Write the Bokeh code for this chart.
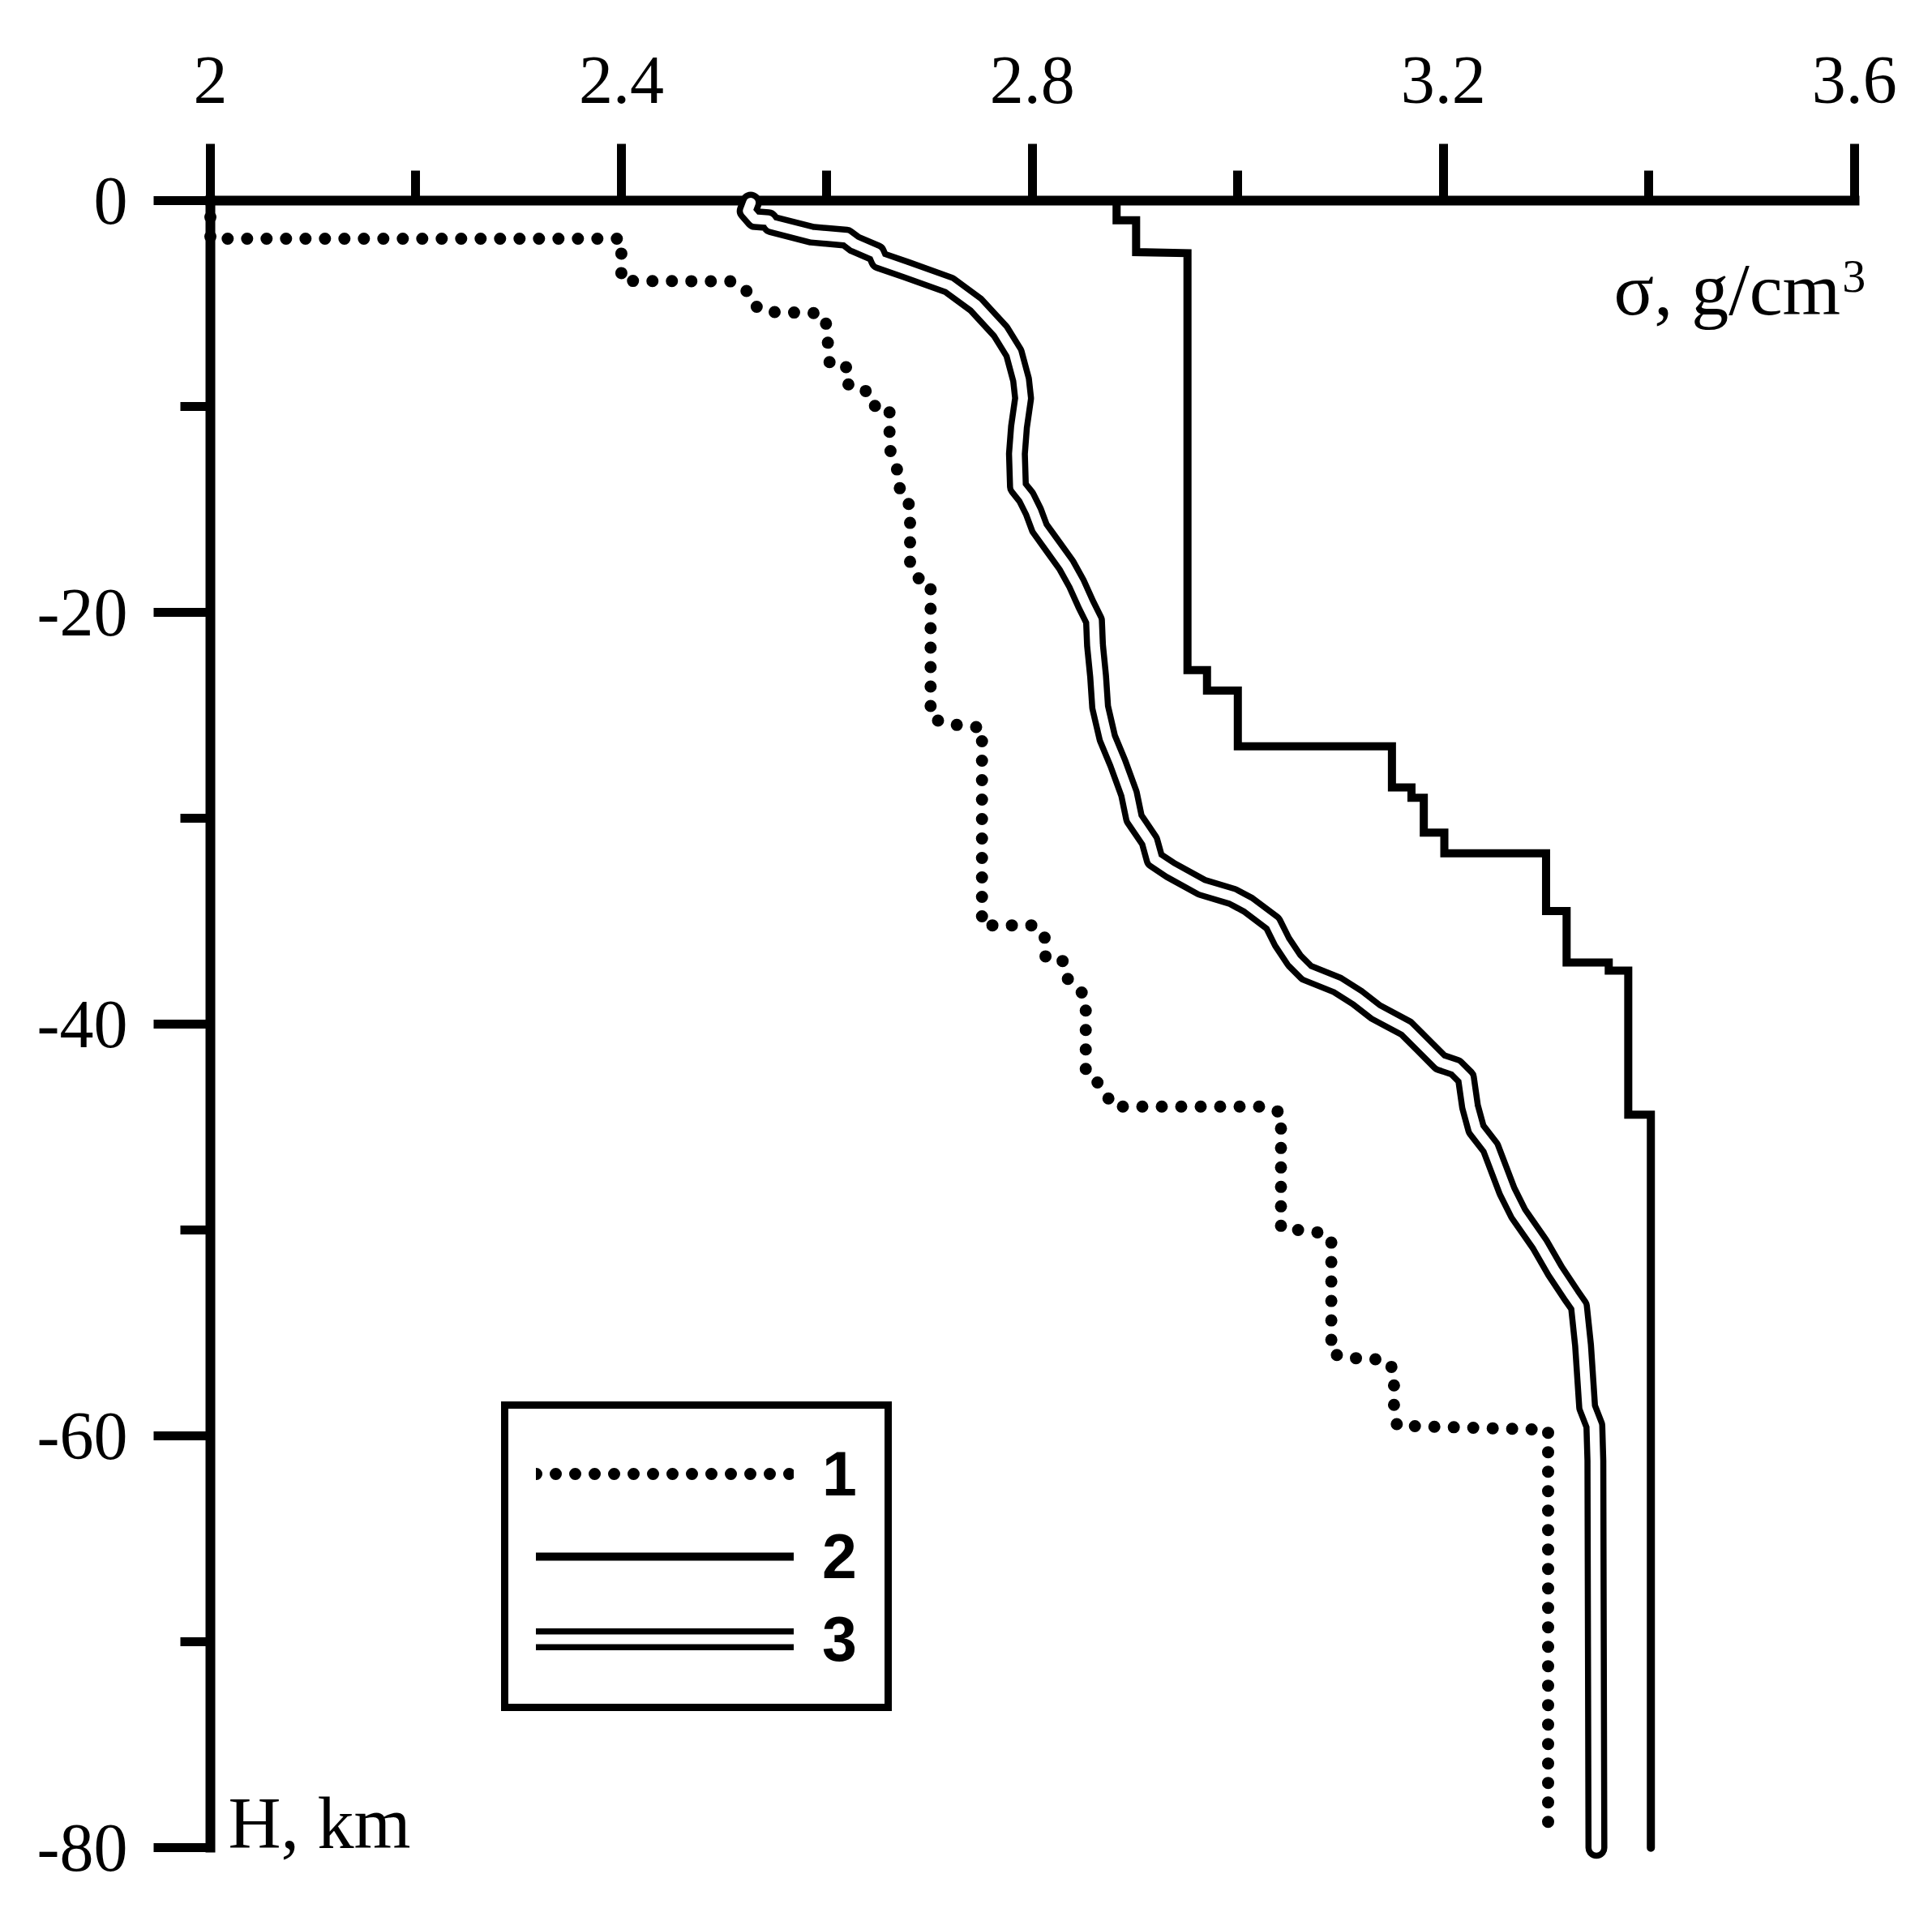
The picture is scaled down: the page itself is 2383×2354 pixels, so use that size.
from bokeh.plotting import figure
from bokeh.models import Range1d, FixedTicker, NumeralTickFormatter, Label, Legend, LegendItem
from bokeh.embed import file_html
from bokeh.resources import INLINE

# ---- data (density in g/cm3, depth in km) ----
# Series 1 (dotted)
density_1 = [2.000, 2.000, 2.400, 2.400, 2.507, 2.521, 2.527, 2.539, 2.595, 2.601,
             2.601, 2.603, 2.621, 2.621, 2.638, 2.643, 2.661, 2.661, 2.665, 2.671,
             2.671, 2.681, 2.681, 2.687, 2.701, 2.701, 2.715, 2.751, 2.751, 2.803,
             2.812, 2.812, 2.829, 2.832, 2.842, 2.852, 2.852, 2.863, 2.872, 2.878,
             3.027, 3.042, 3.042, 3.059, 3.077, 3.091, 3.091, 3.107, 3.144, 3.152,
             3.152, 3.155, 3.302, 3.302]
depth_1 = [-0.8, -1.85, -1.85, -3.9, -3.92, -4.3, -5.0, -5.4, -5.47, -6.2,
           -7.15, -8.0, -8.1, -9.0, -9.25, -9.95, -10.05, -12.0, -12.7, -13.35,
           -14.3, -14.8, -17.6, -18.3, -18.55, -25.1, -25.4, -25.6, -35.2, -35.2,
           -35.8, -36.7, -36.8, -37.7, -38.1, -38.7, -42.4, -42.8, -43.4, -44.0,
           -44.0, -44.3, -49.9, -50.0, -50.1, -50.4, -56.0, -56.2, -56.3, -56.8,
           -58.7, -59.5, -59.7, -79.3]

# Series 2 (solid)
density_2 = [2.882, 2.882, 2.901, 2.901, 2.951, 2.951, 2.970, 2.970, 3.000, 3.000,
             3.150, 3.150, 3.169, 3.169, 3.181, 3.181, 3.201, 3.201, 3.300, 3.300,
             3.320, 3.320, 3.361, 3.361, 3.380, 3.380, 3.402, 3.402]
depth_2 = [0.0, -0.95, -0.95, -2.5, -2.55, -22.8, -22.8, -23.8, -23.8, -26.5,
           -26.5, -28.5, -28.5, -29.0, -29.0, -30.7, -30.7, -31.7, -31.7, -34.5,
           -34.5, -37.0, -37.0, -37.4, -37.4, -44.4, -44.4, -80.0]

# Series 3 (double line)
density_3 = [2.526, 2.523, 2.530, 2.543, 2.546, 2.585, 2.619, 2.627, 2.648, 2.651,
             2.677, 2.719, 2.745, 2.769, 2.782, 2.789, 2.791, 2.787, 2.785, 2.786,
             2.794, 2.801, 2.807, 2.820, 2.833, 2.843, 2.852, 2.860, 2.861, 2.864,
             2.866, 2.873, 2.883, 2.894, 2.899, 2.914, 2.919, 2.934, 2.965, 2.995,
             3.010, 3.034, 3.043, 3.055, 3.067, 3.097, 3.116, 3.134, 3.164, 3.180,
             3.197, 3.212, 3.222, 3.226, 3.232, 3.246, 3.262, 3.273, 3.294, 3.309,
             3.325, 3.332, 3.336, 3.340, 3.347, 3.348, 3.349]
depth_3 = [-0.1, -0.5, -0.9, -0.95, -1.15, -1.65, -1.8, -2.1, -2.55, -2.9,
           -3.35, -4.1, -5.05, -6.35, -7.4, -8.7, -9.6, -11.0, -12.3, -13.9,
           -14.4, -15.1, -15.9, -16.8, -17.7, -18.6, -19.6, -20.4, -21.6, -23.1,
           -24.6, -26.1, -27.3, -28.8, -30.0, -31.1, -32.0, -32.5, -33.35, -33.8,
           -34.2, -35.1, -36.0, -36.9, -37.5, -38.1, -38.7, -39.4, -40.2, -41.0,
           -41.85, -42.1, -42.6, -44.0, -45.1, -46.0, -48.1, -49.2, -50.7, -52.0,
           -53.2, -53.7, -55.6, -58.6, -59.5, -61.2, -80.0]

x_major_ticks = [2.0, 2.4, 2.8, 3.2, 3.6]
x_minor_ticks = [2.2, 2.6, 3.0, 3.4]
y_major_ticks = [0, -20, -40, -60, -80]
y_minor_ticks = [-10, -30, -50, -70]
legend_labels = ["1", "2", "3"]
x_title = "σ, g/cm"
x_title_sup = "3"
y_title = "H, km"

# ---- figure ----
p = figure(width=2367, height=2338,
           x_range=Range1d(2.0, 3.62), y_range=Range1d(-82, 0),
           x_axis_location="above",
           toolbar_location=None, output_backend="svg",
           min_border_left=259, min_border_right=55,
           min_border_top=247, min_border_bottom=8)
p.outline_line_color = None
p.xgrid.visible = False
p.ygrid.visible = False
p.background_fill_color = "white"
p.border_fill_color = "white"

for ax, maj, mnr in ((p.xaxis[0], x_major_ticks, x_minor_ticks),
                     (p.yaxis[0], y_major_ticks, y_minor_ticks)):
    ax.ticker = FixedTicker(ticks=maj, minor_ticks=mnr)
    ax.axis_line_width = 12
    ax.axis_line_color = "black"
    ax.axis_line_cap = "square"
    ax.major_tick_line_width = 11
    ax.minor_tick_line_width = 11
    ax.major_tick_line_color = "black"
    ax.minor_tick_line_color = "black"
    ax.major_tick_out = 70
    ax.major_tick_in = 0
    ax.minor_tick_out = 37
    ax.minor_tick_in = 0
    ax.major_label_text_font = "Liberation Serif"
    ax.major_label_text_font_size = "84px"
    ax.major_label_text_color = "black"

p.xaxis[0].formatter = NumeralTickFormatter(format="0.[0]")
p.yaxis[0].formatter = NumeralTickFormatter(format="0")
p.xaxis[0].bounds = (2.0, 3.6)
p.yaxis[0].bounds = (-80, 0)
p.xaxis[0].major_label_standoff = 51
p.yaxis[0].major_label_standoff = 32

# ---- curves ----
r1 = p.line(density_1, depth_1, line_color="black", line_width=15,
            line_dash="0 24", line_cap="round", line_join="round", level="overlay")
r2 = p.line(density_2, depth_2, line_color="black", line_width=10,
            line_cap="round", line_join="miter", level="overlay")
r3a = p.line(density_3, depth_3, line_color="black", line_width=27,
             line_cap="round", line_join="round", level="overlay")
r3b = p.line(density_3, depth_3, line_color="white", line_width=12,
             line_cap="round", line_join="round", level="overlay")

# ---- legend ----
legend = Legend(items=[LegendItem(label=legend_labels[0], renderers=[r1]),
                       LegendItem(label=legend_labels[1], renderers=[r2]),
                       LegendItem(label=legend_labels[2], renderers=[r3a, r3b])],
                location=(359, 219), margin=0, padding=34, spacing=10,
                glyph_width=318, glyph_height=92, label_height=92,
                label_standoff=35,
                label_text_font="Liberation Sans", label_text_font_style="bold",
                label_text_font_size="77px", label_text_color="black",
                border_line_color="black", border_line_width=9,
                border_line_alpha=1.0, border_line_join="round",
                background_fill_color="white", background_fill_alpha=1.0)
p.add_layout(legend)

# ---- axis titles ----
p.add_layout(Label(x=3.6, y=-4.3, x_offset=-17, text=x_title,
                   text_font="Liberation Serif", text_font_size="92px",
                   text_align="right", text_baseline="middle", text_color="black"))
p.add_layout(Label(x=3.6, y=-3.7, x_offset=-15, text=x_title_sup,
                   text_font="Liberation Serif", text_font_size="58px",
                   text_align="left", text_baseline="middle", text_color="black"))
p.add_layout(Label(x=2.0, y=-78.8, x_offset=22, text=y_title,
                   text_font="Liberation Serif", text_font_size="90px",
                   text_align="left", text_baseline="middle", text_color="black"))

open("out.html", "w").write(file_html(p, INLINE))
